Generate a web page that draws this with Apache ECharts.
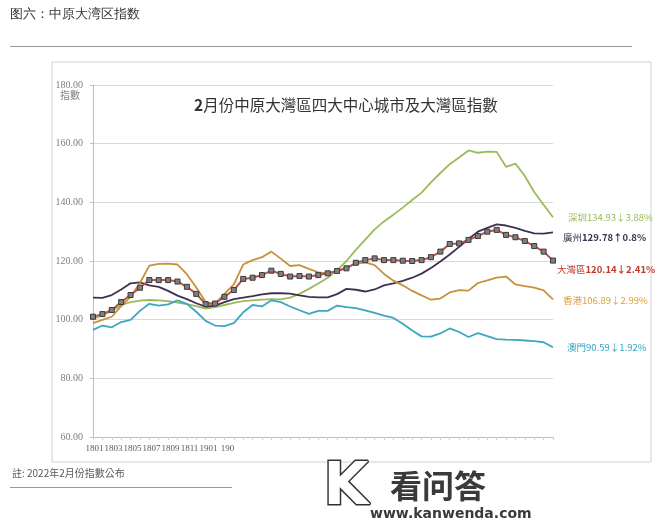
<!DOCTYPE html>
<html>
<head>
<meta charset="utf-8">
<script src="https://cdn.jsdelivr.net/npm/echarts@6/dist/echarts.min.js"></script>
<style>
html, body { margin: 0; padding: 0; background: #fff; }
#chart { width: 667px; height: 527px; }
</style>
</head>
<body>
<div id="chart"></div>
<script>
// months 2018-01 .. 2022-02
const months = [
  '1801', '1802', '1803', '1804', '1805', '1806', '1807', '1808', '1809', '1810', '1811', '1812',
  '1901', '1902', '1903', '1904', '1905', '1906', '1907', '1908', '1909', '1910', '1911', '1912',
  '2001', '2002', '2003', '2004', '2005', '2006', '2007', '2008', '2009', '2010', '2011', '2012',
  '2101', '2102', '2103', '2104', '2105', '2106', '2107', '2108', '2109', '2110', '2111', '2112',
  '2201', '2202'
]
// the truncated tick labels printed under the axis
const tickLabels = ['1801', '1803', '1805', '1807', '1809', '1811', '1901', '190']
const yTicks = [60, 80, 100, 120, 140, 160, 180]

const shenzhen = [
  100.2, 101.5, 103.0, 105.0, 106.0, 106.5, 106.7, 106.6, 106.3, 105.8,
  105.3, 104.6, 103.8, 104.3, 105.0, 105.7, 106.3, 106.6, 106.8, 107.0,
  106.9, 107.5, 108.8, 110.5, 112.3, 114.3, 116.8, 120.0, 123.8, 127.3,
  130.8, 133.5, 135.8, 138.2, 140.8, 143.3, 146.8, 150.0, 153.0, 155.3,
  157.7, 156.9, 157.3, 157.2, 152.1, 153.2, 149.0, 143.5, 139.2, 134.93
]
const guangzhou = [
  107.5, 107.4, 108.4, 110.3, 112.4, 112.7, 111.7, 111.2, 109.8, 108.2,
  107.0, 105.6, 104.4, 104.8, 106.0, 107.0, 107.5, 108.0, 108.6, 109.0,
  109.0, 108.9, 108.3, 107.8, 107.6, 107.6, 108.7, 110.5, 110.2, 109.6,
  110.3, 111.7, 112.4, 113.2, 114.3, 115.7, 117.6, 119.8, 122.2, 124.8,
  127.5, 130.0, 131.3, 132.5, 132.1, 131.3, 130.3, 129.4, 129.3, 129.78
]
const bayArea = [
  101.0, 101.9, 103.3, 106.0, 108.4, 110.9, 113.5, 113.5, 113.5, 113.0,
  111.2, 108.8, 105.3, 105.5, 107.8, 110.1, 113.9, 114.3, 115.2, 116.7,
  115.6, 114.7, 114.9, 114.7, 115.2, 115.8, 116.6, 117.5, 119.4, 120.3,
  120.9, 120.3, 120.3, 120.1, 120.0, 120.3, 121.3, 123.2, 125.8, 126.0,
  127.2, 128.5, 130.0, 130.6, 128.9, 128.1, 126.8, 125.1, 123.2, 120.14
]
const hongkong = [
  98.8, 99.9, 101.0, 104.6, 107.8, 112.5, 118.4, 119.0, 119.1, 118.8,
  115.5, 111.0, 106.0, 105.4, 108.8, 112.0, 118.8, 120.3, 121.3, 123.2,
  120.8, 118.3, 118.6, 117.3, 116.1, 115.8, 116.6, 117.8, 119.0, 119.5,
  118.6, 115.6, 113.3, 111.7, 109.8, 108.3, 106.8, 107.2, 109.3, 110.1,
  109.9, 112.5, 113.4, 114.3, 114.7, 112.0, 111.4, 110.9, 110.0, 106.89
]
const macau = [
  96.5, 98.0, 97.4, 99.2, 99.9, 103.0, 105.4, 104.8, 105.2, 106.6,
  105.4, 102.7, 99.6, 98.0, 97.8, 98.8, 102.5, 105.0, 104.5, 106.6,
  106.0, 104.5, 103.2, 102.0, 103.0, 103.0, 104.8, 104.3, 103.9, 103.2,
  102.3, 101.4, 100.6, 98.6, 96.3, 94.3, 94.2, 95.3, 97.0, 95.8,
  94.1, 95.4, 94.4, 93.4, 93.2, 93.1, 92.9, 92.7, 92.3, 90.59
]

const cityNames = ['深圳', '廣州', '大灣區', '香港', '澳門']
const endValues = ['134.93', '129.78', '120.14', '106.89', '90.59']
const endChanges = ['↓3.88%', '↑0.8%', '↓2.41%', '↓2.99%', '↓1.92%']

const lineColors = ['#9bbb59', '#403152', '#c0504d', '#c8913c', '#3ea6bf']
const labelColors = ['#9bbb59', '#403152', '#c0392b', '#e0a040', '#31a6c4']
const labelBold = [false, true, true, false, false]
const labelOffsets = [[15, 0], [10, 5], [4, 9], [10, 1], [14, 0]]

const cjk = '"Noto Sans CJK TC", "Noto Sans CJK SC", sans-serif'

function makeSeries(idx, data, extra) {
  return Object.assign({
    name: cityNames[idx],
    type: 'line',
    data: data,
    showSymbol: false,
    symbol: 'none',
    lineStyle: { color: lineColors[idx], width: 1.8 },
    itemStyle: { color: lineColors[idx] },
    endLabel: {
      show: true,
      distance: 0,
      offset: labelOffsets[idx],
      formatter: '{a|' + cityNames[idx] + '}{b|' + endValues[idx] + endChanges[idx] + '}',
      rich: {
        a: { color: labelColors[idx], fontSize: 9.5, fontFamily: cjk },
        b: {
          color: labelColors[idx],
          fontSize: 9.5,
          fontFamily: cjk,
          fontWeight: labelBold[idx] ? 'bold' : 'normal'
        }
      }
    },
    animation: false
  }, extra || {})
}

const chart = echarts.init(document.getElementById('chart'))

chart.setOption({
  animation: false,
  backgroundColor: '#fff',
  title: {
    text: '{n|2}月份中原大灣區四大中心城市及大灣區指數',
    left: 189,
    top: 92,
    textStyle: {
      fontSize: 15.5,
      fontWeight: 'normal',
      color: '#333',
      fontFamily: cjk,
      rich: {
        n: { fontSize: 15.5, fontWeight: 'bold', color: '#333', fontFamily: cjk }
      }
    }
  },
  graphic: [
    {
      type: 'text', left: 10, top: 8,
      style: { text: '图六：中原大湾区指数', fontSize: 13, fill: '#333', font: '13px "Noto Sans CJK SC"' }
    },
    {
      type: 'line', shape: { x1: 10, y1: 46.5, x2: 632, y2: 46.5 },
      style: { stroke: '#9a9a9a', lineWidth: 1 }
    },
    {
      type: 'rect', shape: { x: 52, y: 62, width: 599, height: 400 },
      style: { fill: 'none', stroke: '#d0d0d0', lineWidth: 1 }
    },
    {
      type: 'text', left: 60, top: 90,
      style: { text: '指數', font: '10px "Noto Sans CJK TC"', fill: '#7f7f7f' }
    },
    {
      type: 'text', left: 12, top: 468,
      style: { text: '註: 2022年2月份指數公布', font: '10px "Noto Sans CJK TC"', fill: '#595959' }
    },
    {
      type: 'line', shape: { x1: 10, y1: 487.5, x2: 232, y2: 487.5 },
      style: { stroke: '#9a9a9a', lineWidth: 1 }
    },
    {
      type: 'text', left: 322, top: 458,
      style: { text: 'K', font: 'bold 58px "DejaVu Sans"', fill: '#fff', stroke: '#333', lineWidth: 3 }
    },
    {
      type: 'text', left: 390, top: 470,
      style: { text: '看问答', font: 'bold 32px "Noto Sans CJK SC"', fill: '#3a3a3a' }
    },
    {
      type: 'text', left: 370, top: 507,
      style: { text: 'www.kanwenda.com', font: 'bold 14px "DejaVu Sans"', fill: '#3a3a3a' }
    }
  ],
  grid: [
    { left: 93, right: 114, top: 85, bottom: 90 },
    { left: 85, width: 152, top: 436, height: 1 }
  ],
  xAxis: [
    {
      type: 'category',
      data: months,
      boundaryGap: false,
      axisLine: { lineStyle: { color: '#bfbfbf' } },
      axisTick: { show: true, interval: 0, length: 3, lineStyle: { color: '#d0d0d0' } },
      axisLabel: { show: false },
      splitLine: { show: false }
    },
    {
      type: 'category',
      gridIndex: 1,
      data: tickLabels,
      boundaryGap: true,
      axisLine: { show: false },
      axisTick: { show: false },
      axisLabel: {
        interval: 0,
        margin: 7,
        fontSize: 9,
        color: '#595959',
        fontFamily: 'Liberation Serif'
      }
    }
  ],
  yAxis: [
    {
      type: 'value',
      min: yTicks[0],
      max: yTicks[yTicks.length - 1],
      interval: 20,
      axisLine: { show: true, lineStyle: { color: '#bfbfbf' } },
      axisTick: { show: true, length: 3, lineStyle: { color: '#bfbfbf' } },
      axisLabel: {
        margin: 10,
        fontSize: 10,
        color: '#7f7f7f',
        fontFamily: 'Liberation Serif',
        formatter: v => v.toFixed(2)
      },
      splitLine: { lineStyle: { color: '#d9d9d9' } }
    },
    { type: 'value', gridIndex: 1, show: false }
  ],
  series: [
    makeSeries(0, shenzhen),
    makeSeries(1, guangzhou),
    makeSeries(3, hongkong),
    makeSeries(4, macau),
    makeSeries(2, bayArea, {
      showSymbol: true,
      symbol: 'rect',
      symbolSize: 5,
      lineStyle: { color: lineColors[2], width: 2 },
      itemStyle: { color: '#7f7f7f', borderColor: '#3a3a3a', borderWidth: 1 }
    })
  ]
})
</script>
</body>
</html>
